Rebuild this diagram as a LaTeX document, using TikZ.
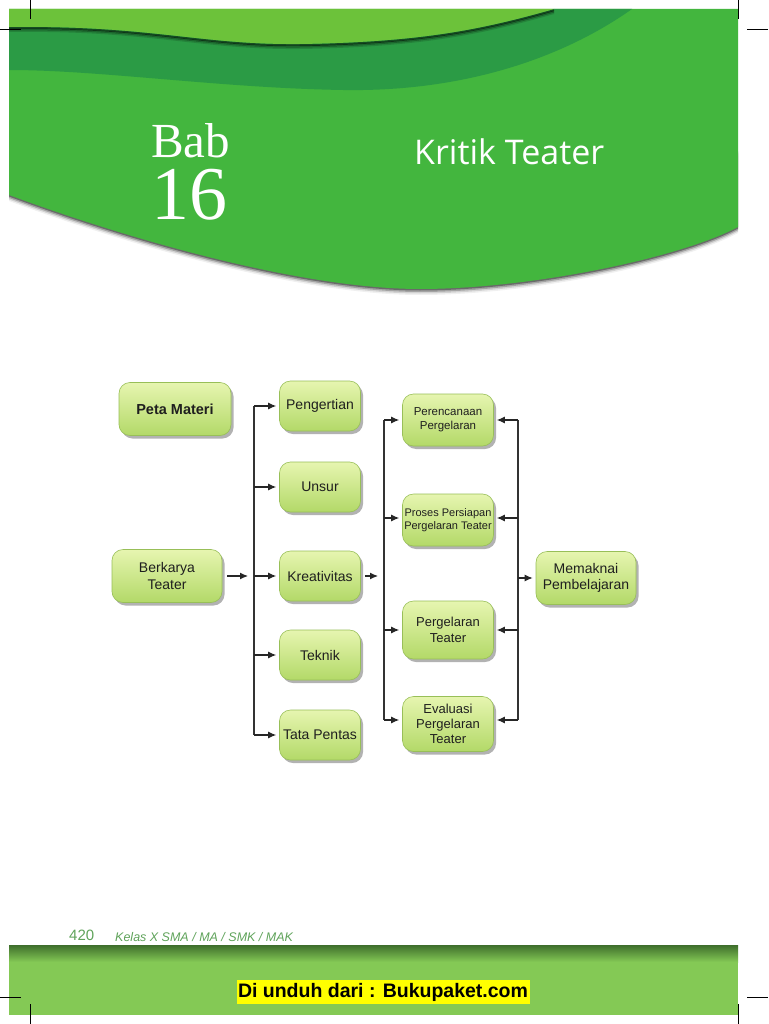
\documentclass[tikz,border=0pt]{standalone}
\usepackage{fontspec}
\setmainfont{Liberation Sans}
\newfontfamily\seriffont{Liberation Serif}
\newfontfamily\titlefont{Open Sans}
\usetikzlibrary{arrows.meta,shadows}
\definecolor{hdrlight}{HTML}{6CC23A}
\definecolor{hdrdark}{HTML}{2B9B45}
\definecolor{hdrmain}{HTML}{43B63E}
\definecolor{boxtop}{HTML}{E6F5B0}
\definecolor{boxbot}{HTML}{B3D968}
\definecolor{boxedge}{HTML}{98BF58}
\definecolor{footgreen}{HTML}{84C955}
\definecolor{footdark}{HTML}{3E6E2C}
\definecolor{pagegreen}{HTML}{5FA35A}
\definecolor{hilite}{HTML}{FFFF00}
\tikzset{
  box/.style={rounded corners=11pt, draw=boxedge, line width=0.6pt,
    top color=boxtop, bottom color=boxbot,
    drop shadow={shadow xshift=2.5pt, shadow yshift=-3pt, opacity=0.3, fill=black},
    align=center, inner sep=1pt, text=black!88,
    font=\fontsize{14}{16.5}\selectfont},
  midbox/.style={box, minimum width=81pt, minimum height=50pt},
  rbox/.style={box, minimum width=91pt, minimum height=52pt},
  arr/.style={-{Latex[length=8pt,width=7pt]}, line width=1.1pt, black!85, shorten >=3pt},
  bus/.style={line width=1.1pt, black!80},
  crop/.style={line width=0.6pt, black}
}
\begin{document}
\begin{tikzpicture}[x=1pt,y=-1pt]
\useasboundingbox (0,0) rectangle (768,1024);
\fill[white] (0,0) rectangle (768,1024);
% ---------- header ----------
\begin{scope}
\clip (9,9) rectangle (738,320);
\foreach \s/\o in {6/0.06,4.5/0.12,3/0.22,1.5/0.35}{
  \fill[black,opacity=\o,yshift=-\s pt] (9,150) -- (738,150) -- (738,227)
    .. controls (680,258) and (530,289) .. (420,289)
    .. controls (300,289) and (125,238) .. (9,195) -- cycle;
}
\fill[hdrmain] (9,9) -- (738,9) -- (738,227)
    .. controls (680,258) and (530,289) .. (420,289)
    .. controls (300,289) and (125,238) .. (9,195) -- cycle;
\fill[hdrdark] (9,20) -- (9,70) .. controls (100,70) and (220,88) .. (343,90)
    .. controls (460,92) and (560,60) .. (632,9) -- (554,9) -- cycle;
\foreach \s/\o in {4/0.15,2.5/0.3,1.2/0.5}{
  \draw[black,opacity=\o,line width=2pt,yshift=-\s pt] (9,27)
    .. controls (150,25) and (200,45) .. (300,44)
    .. controls (420,42) and (480,30) .. (554,9);
}
\fill[hdrlight] (9,27) .. controls (150,25) and (200,45) .. (300,44)
    .. controls (420,42) and (480,30) .. (554,9) -- (9,9) -- cycle;
\end{scope}
\node[font=\seriffont, text=white, anchor=base west, inner sep=0pt] (bab) at (151,220)
  {\vbox{\hbox{\fontsize{49}{49}\selectfont Bab}\kern10.5pt\hbox{\fontsize{76}{76}\selectfont 16}}};
\node[font=\titlefont\fontsize{34}{34}\selectfont, text=white, anchor=base west, inner sep=0pt] (title) at (414,165) {Kritik Teater};
% crop marks
\draw[crop] (30,0) -- (30,19);
\draw[crop] (0,29) -- (21,29);
\draw[crop] (738,0) -- (738,19);
\draw[crop] (747,29) -- (768,29);
% ---------- diagram ----------
\node[box, minimum width=112pt, minimum height=53pt, font=\bfseries\fontsize{14.5}{17}\selectfont] (peta) at (175,409) {Peta Materi};
\node[box, minimum width=110pt, minimum height=53pt] (berk) at (167,576) {Berkarya\\Teater};
\node[midbox] (peng) at (320,406) {Pengertian};
\node[midbox] (unsur) at (320,487) {Unsur};
\node[midbox] (krea) at (320,576) {Kreativitas};
\node[midbox] (tek) at (320,655) {Teknik};
\node[midbox] (tata) at (320,735) {Tata Pentas};
\node[rbox, font=\fontsize{11.5}{14}\selectfont] (renc) at (448,420) {Perencanaan\\Pergelaran};
\node[rbox, font=\fontsize{11}{13.5}\selectfont, inner sep=0pt] (pros) at (448,520) {Proses Persiapan\\Pergelaran Teater};
\node[rbox, minimum height=58pt, font=\fontsize{13}{15.5}\selectfont] (perg) at (448,630) {Pergelaran\\Teater};
\node[rbox, minimum height=55pt, font=\fontsize{13}{15}\selectfont] (eval) at (448,724) {Evaluasi\\Pergelaran\\Teater};
\node[box, minimum width=100pt, minimum height=53pt] (mem) at (586,578) {Memaknai\\Pembelajaran};
% left bus
\coordinate (b1t) at (254,406);
\coordinate (b1b) at (254,735);
\coordinate (b1in) at (251,576);
\draw[bus] (b1t) -- (b1b);
\draw[arr] ([xshift=5pt]berk.east) -- (b1in);
\draw[arr] (b1t) -- (peng.west);
\draw[arr] (unsur.west -| b1t) -- (unsur.west);
\draw[arr] (krea.west -| b1t) -- (krea.west);
\draw[arr] (tek.west -| b1t) -- (tek.west);
\draw[arr] (b1b) -- (tata.west);
% middle bus
\coordinate (b2t) at (384,420);
\coordinate (b2b) at (384,720);
\coordinate (b2in) at (381,576);
\draw[bus] (b2t) -- (b2b);
\draw[arr] ([xshift=4pt]krea.east) -- (b2in);
\draw[arr] (b2t) -- (renc.west);
\draw[arr] (384,518) -- (pros.west |- 0,518);
\draw[arr] (384,630) -- (perg.west);
\draw[arr] (b2b) -- (eval.west |- b2b);
% right bus
\coordinate (b3t) at (518,420);
\coordinate (b3b) at (518,720);
\coordinate (b3m) at (518,578);
\draw[bus] (b3t) -- (b3b);
\draw[arr] (b3t) -- (renc.east);
\draw[arr] (518,518) -- (pros.east |- 0,518);
\draw[arr] (518,630) -- (perg.east);
\draw[arr] (b3b) -- (eval.east |- b3b);
\draw[arr] (b3m) -- (mem.west);
% ---------- footer ----------
\node[font=\fontsize{15}{15}\selectfont, text=pagegreen, anchor=base west, inner sep=0pt] (page) at (69,940) {420};
\node[font=\itshape\fontsize{12.5}{12.5}\selectfont, text=pagegreen, anchor=base west, inner sep=0pt] (kelas) at (115,941) {Kelas X SMA / MA / SMK / MAK};
\fill[footgreen] (9,945) rectangle (738,1015);
\shade[top color=footdark, bottom color=footgreen] (9,945) rectangle (738,962);
\node[fill=hilite, font=\bfseries\fontsize{19.5}{19.5}\selectfont, text=black, inner xsep=1.5pt, inner ysep=3pt, minimum height=21pt] (dl) at (383,992) {Di unduh dari : Bukupaket.com};
\draw[crop] (0,997) -- (21,997);
\draw[crop] (30,1004) -- (30,1024);
\draw[crop] (747,997) -- (768,997);
\draw[crop] (738,1004) -- (738,1024);
\end{tikzpicture}
\end{document}
